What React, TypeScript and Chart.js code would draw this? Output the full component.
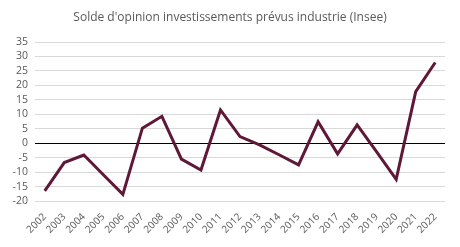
import React, { useEffect, useRef } from "react";
import { Chart, registerables } from "chart.js";

Chart.register(...registerables);

const years = [
  "2002", "2003", "2004", "2005", "2006", "2007", "2008", "2009", "2010", "2011", "2012",
  "2013", "2014", "2015", "2016", "2017", "2018", "2019", "2020", "2021", "2022",
];
const solde = [
  -16.5, -6.7, -4.1, -10.9, -17.7, 5.2, 9.3, -5.5, -9.3, 11.5, 2.3,
  -0.6, -4.0, -7.5, 7.4, -3.7, 6.3, -3.0, -12.5, 17.8, 27.9,
];
const yMin = -20;
const yMax = 35;
const yStep = 5;
const title = "Solde d'opinion investissements prévus industrie (Insee)";

const FONT = "'Open Sans', 'Liberation Sans', sans-serif";
const GREY = "#595959";

// Title centred on the whole canvas, independent of the plot's right margin.
const titlePlugin = {
  id: "centredTitle",
  afterDraw(chart: any) {
    const c = chart.ctx;
    c.save();
    c.fillStyle = GREY;
    c.font = `12px ${FONT}`;
    c.textAlign = "center";
    c.textBaseline = "middle";
    c.fillText(title, 230, 18);
    c.restore();
  },
};

export default function App() {
  const ref = useRef<HTMLCanvasElement | null>(null);

  useEffect(() => {
    document.body.style.margin = "0";
    const ctx = ref.current;
    if (!ctx) return;
    const chart = new Chart(ctx, {
      type: "line",
      data: {
        labels: years,
        datasets: [
          {
            data: solde,
            borderColor: "#5f1838",
            borderWidth: 3,
            pointRadius: 0,
            tension: 0,
            fill: false,
          },
        ],
      },
      options: {
        animation: false,
        responsive: false,
        maintainAspectRatio: false,
        layout: { padding: { top: 42, left: 0, right: 15, bottom: 0 } },
        plugins: {
          legend: { display: false },
          tooltip: { enabled: false },
          title: { display: false },
        },
        scales: {
          x: {
            offset: true,
            grid: { display: false },
            border: { display: false },
            ticks: {
              color: GREY,
              font: { family: FONT, size: 10 },
              maxRotation: 45,
              minRotation: 45,
              autoSkip: false,
              padding: 2,
            },
            afterFit: (s: any) => {
              s.height = 46;
            },
          },
          y: {
            min: yMin,
            max: yMax,
            border: { display: false },
            grid: {
              color: (c: any) => (c.tick && c.tick.value === 0 ? "#000000" : "#d9d9d9"),
              lineWidth: 1,
              drawTicks: false,
            },
            ticks: {
              stepSize: yStep,
              autoSkip: false,
              color: GREY,
              font: { family: FONT, size: 10.5 },
              padding: 7,
            },
            afterFit: (s: any) => {
              s.width = 35;
            },
          },
        },
      },
      plugins: [titlePlugin],
    });
    return () => chart.destroy();
  }, []);

  return (
    <div style={{ position: "absolute", left: 0, top: 0, width: 460, height: 247 }}>
      <canvas ref={ref} width={460} height={247} />
    </div>
  );
}
